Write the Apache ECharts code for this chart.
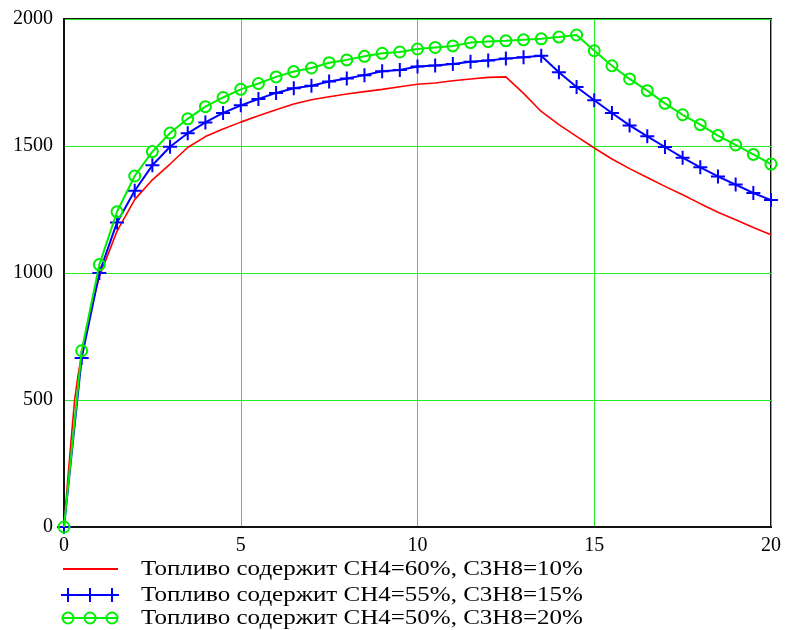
<!DOCTYPE html>
<html>
<head>
<meta charset="utf-8">
<script src="https://cdn.jsdelivr.net/npm/echarts@6/dist/echarts.min.js"></script>
<style>
  html, body { margin: 0; padding: 0; background: #fff; }
  #chart { width: 786px; height: 630px; }
</style>
</head>
<body>
<div id="chart"></div>
<script>
// Temperature-like curves for three fuel compositions
const redX = [0, 0.1, 0.2, 0.3, 0.4, 0.5, 0.75, 1, 1.5, 2, 2.5, 3, 3.5, 4, 4.5, 5, 5.5, 6, 6.5, 7, 7.5, 8, 8.5, 9, 9.5, 10, 10.5, 11, 11.5, 12, 12.5, 13, 13.5, 14, 14.5, 15, 15.5, 16, 16.5, 17, 17.5, 18, 18.5, 19, 19.5, 20];
const redY = [0, 175, 340, 500, 600, 680, 850, 985, 1165, 1289, 1367, 1429, 1494, 1537, 1567, 1594, 1619, 1643, 1665, 1682, 1694, 1705, 1714, 1723, 1733, 1743, 1748, 1757, 1764, 1770, 1772, 1707, 1636, 1584, 1538, 1492, 1449, 1411, 1376, 1341, 1308, 1273, 1239, 1210, 1179, 1151];

const stepX = [0, 0.5, 1, 1.5, 2, 2.5, 3, 3.5, 4, 4.5, 5, 5.5, 6, 6.5, 7, 7.5, 8, 8.5, 9, 9.5, 10, 10.5, 11, 11.5, 12, 12.5, 13, 13.5, 14, 14.5, 15, 15.5, 16, 16.5, 17, 17.5, 18, 18.5, 19, 19.5, 20];
const blueY = [0, 665, 1000, 1199, 1324, 1424, 1497, 1550, 1593, 1630, 1660, 1685, 1709, 1727, 1737, 1754, 1766, 1779, 1794, 1799, 1813, 1817, 1823, 1832, 1837, 1844, 1849, 1855, 1790, 1732, 1680, 1630, 1581, 1538, 1496, 1454, 1416, 1380, 1348, 1315, 1287];
const greenY = [0, 694, 1033, 1241, 1382, 1478, 1551, 1607, 1655, 1691, 1723, 1746, 1772, 1793, 1807, 1828, 1839, 1853, 1865, 1870, 1882, 1888, 1894, 1907, 1911, 1914, 1918, 1922, 1929, 1937, 1875, 1816, 1764, 1718, 1668, 1623, 1584, 1541, 1504, 1467, 1429];

const seriesNames = [
  'Топливо содержит CH4=60%, C3H8=10%',
  'Топливо содержит CH4=55%, C3H8=15%',
  'Топливо содержит CH4=50%, C3H8=20%'
];

const xTicks = [0, 5, 10, 15, 20];
const yTicks = [0, 500, 1000, 1500, 2000];

const RED = '#ff0000', BLUE = '#0000ff', GREEN = '#00ee00', GRID = '#22ee22';
const FONT = '"Liberation Serif", "Times New Roman", serif';

const pairs = (xs, ys) => xs.map((x, i) => [x, ys[i]]);
const crossPath = 'path://M0,6 H14 V8 H0 Z M6,0 H8 V14 H6 Z';

// Legend drawn as graphic rows: sample line, markers, caption
function legendRow(y, color, kind, text) {
  const children = [
    { type: 'line', shape: { x1: 63, y1: y, x2: 118, y2: y }, style: { stroke: color, lineWidth: 2 } }
  ];
  [68, 90, 112].forEach(cx => {
    if (kind === 'cross') {
      children.push({ type: 'line', shape: { x1: cx - 7, y1: y, x2: cx + 7, y2: y }, style: { stroke: color, lineWidth: 2 } });
      children.push({ type: 'line', shape: { x1: cx, y1: y - 7, x2: cx, y2: y + 7 }, style: { stroke: color, lineWidth: 2 } });
    } else if (kind === 'circle') {
      children.push({ type: 'circle', shape: { cx: cx, cy: y, r: 5.5 }, style: { stroke: color, fill: 'transparent', lineWidth: 2 } });
    }
  });
  children.push({
    type: 'text', x: 141, y: y + 1, scaleX: 1.25, scaleY: 1,
    style: { text: text, font: '20px ' + FONT, fill: '#000', verticalAlign: 'middle' }
  });
  return { type: 'group', children: children };
}

const chart = echarts.init(document.getElementById('chart'), null, { renderer: 'canvas' });
chart.setOption({
  backgroundColor: '#fff',
  animation: false,
  grid: {
    left: 64, right: 15, top: 19, bottom: 103,
    show: true, borderColor: '#111', borderWidth: 2, backgroundColor: 'transparent'
  },
  xAxis: {
    type: 'value', min: xTicks[0], max: xTicks[xTicks.length - 1], interval: 5,
    axisLine: { show: true, onZero: false, lineStyle: { color: '#111', width: 2 } },
    axisTick: { show: false },
    axisLabel: { color: '#000', fontFamily: FONT, fontSize: 20, margin: 9, formatter: v => String(v) },
    splitLine: { show: true, lineStyle: { color: GRID, width: 1 } }
  },
  yAxis: {
    type: 'value', min: yTicks[0], max: yTicks[yTicks.length - 1], interval: 500,
    axisLine: { show: true, onZero: false, lineStyle: { color: '#111', width: 2 } },
    axisTick: { show: false },
    axisLabel: { color: '#000', fontFamily: FONT, fontSize: 20, margin: 11, formatter: v => String(v) },
    splitLine: { show: true, lineStyle: { color: GRID, width: 1 } }
  },
  series: [
    {
      name: seriesNames[0], type: 'line', data: pairs(redX, redY),
      showSymbol: false, symbol: 'none',
      lineStyle: { color: RED, width: 1.6 }, z: 3
    },
    {
      name: seriesNames[1], type: 'line', data: pairs(stepX, blueY),
      symbol: crossPath, symbolSize: [14, 14], showAllSymbol: true,
      itemStyle: { color: BLUE, borderWidth: 0 },
      lineStyle: { color: BLUE, width: 2 }, z: 4
    },
    {
      name: seriesNames[2], type: 'line', data: pairs(stepX, greenY),
      symbol: 'circle', symbolSize: 11, showAllSymbol: true,
      itemStyle: { color: 'rgba(0,0,0,0)', borderColor: GREEN, borderWidth: 2 },
      lineStyle: { color: GREEN, width: 2 }, z: 5
    }
  ],
  graphic: [
    legendRow(569, RED, 'none', seriesNames[0]),
    legendRow(595, BLUE, 'cross', seriesNames[1]),
    legendRow(618, GREEN, 'circle', seriesNames[2])
  ]
});
</script>
</body>
</html>
